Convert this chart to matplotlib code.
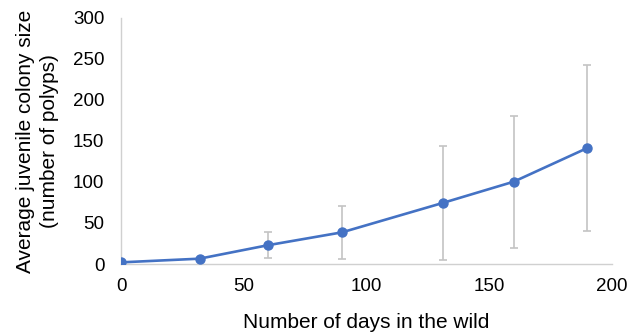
import matplotlib.pyplot as plt

plt.rcParams['font.family'] = ['Liberation Sans', 'DejaVu Sans']

days = [0, 32, 60, 90, 131, 160, 190]
size = [2, 6.5, 23, 38.6, 74.4, 100.4, 141.5]
err_low = [0, 0, 15.3, 32.1, 69.5, 80.5, 100.9]
err_high = [0, 0, 15.6, 32.4, 69.6, 80.5, 100.8]

fig = plt.figure(figsize=(6.28, 3.33), dpi=100)
ax = fig.add_axes([0.1927, 0.2072, 0.7818, 0.7388])

ax.errorbar(days, size, yerr=[err_low, err_high], fmt='none',
            ecolor='#c4c4c4', elinewidth=1.2, capsize=3, capthick=1.2, zorder=2)
ax.plot(days, size, color='#4472C4', linewidth=1.9, marker='o',
        markersize=6.5, zorder=3)

ax.set_xlim(0, 200)
ax.set_ylim(0, 300)
ax.set_xticks([0, 50, 100, 150, 200])
ax.set_yticks([0, 50, 100, 150, 200, 250, 300])
ax.tick_params(axis='y', length=0, labelsize=13.5, pad=12)
ax.tick_params(axis='x', length=0, labelsize=13.5, pad=10)

for s in ['top', 'right']:
    ax.spines[s].set_visible(False)
for s in ['left', 'bottom']:
    ax.spines[s].set_color('#d0d0d0')
    ax.spines[s].set_linewidth(1)

ax.set_xlabel('Number of days in the wild', fontsize=15, labelpad=13)
ax.set_ylabel('Average juvenile colony size\n(number of polyps)', fontsize=15,
              labelpad=10, linespacing=1.35)

fig.savefig('out.png', dpi=100)
